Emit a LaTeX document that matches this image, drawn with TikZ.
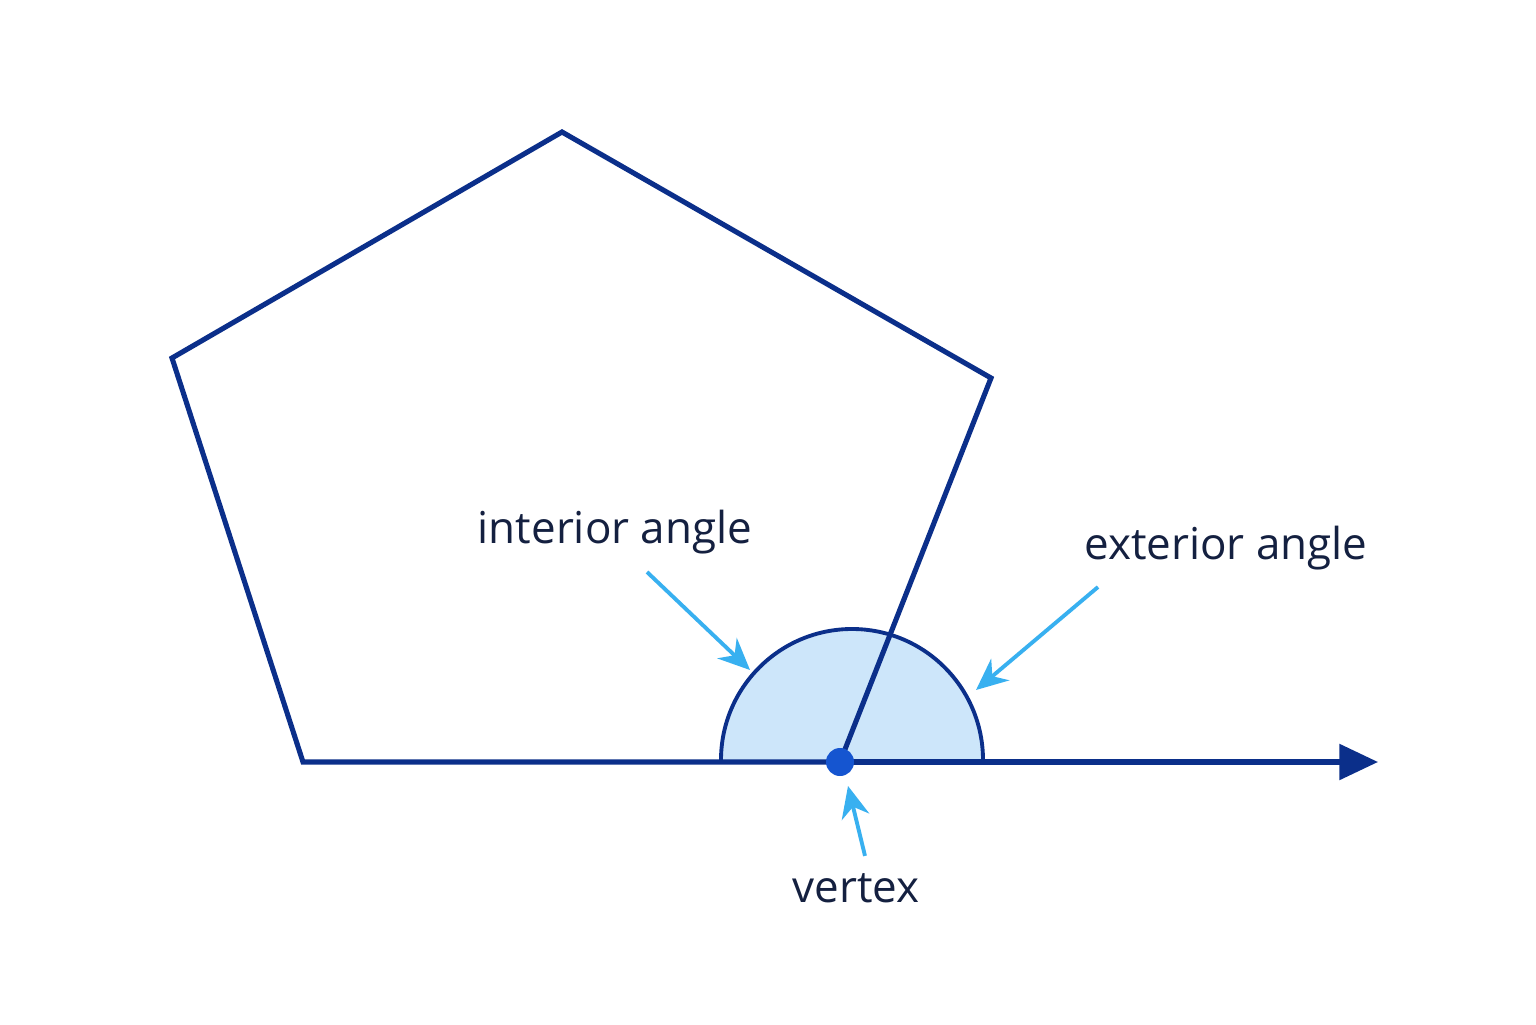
\documentclass[tikz,border=0pt]{standalone}
\usepackage{fontspec}
\setmainfont{Open Sans}
\usetikzlibrary{arrows.meta}
\definecolor{edge}{HTML}{0B2F8A}
\definecolor{pointer}{HTML}{38B0F0}
\definecolor{wedge}{HTML}{CDE6FA}
\definecolor{dot}{HTML}{1555D0}
\definecolor{ink}{HTML}{142040}
\tikzset{
  side/.style={draw=edge, line width=1.45pt, line join=miter},
  pointy/.style={draw=pointer, line width=1.1pt, -{Stealth[length=9pt,width=8pt]}},
  label/.style={text=ink, font=\fontsize{12.5}{15}\selectfont}
}
\begin{document}
\begin{tikzpicture}
\useasboundingbox[fill=white] (0,0) rectangle (15.36,10.24);
\coordinate (top) at (5.62,8.92);
\coordinate (ul) at (1.72,6.66);
\coordinate (ll) at (3.03,2.62);
\coordinate (v) at (8.40,2.62);
\coordinate (ur) at (9.91,6.46);
\coordinate (tip) at (13.78,2.62);
% angle marks
\fill[wedge] (7.21,2.62) arc (180:0:1.31) -- cycle;
\draw[edge, line width=1.1pt] (7.21,2.64) arc (180:0:1.31);
% polygon and extended side
\draw[side] (v) -- (ur) -- (top) -- (ul) -- (ll) -- (v);
\draw[side, -{Triangle[length=11pt,width=10pt]}] (v) -- (tip);
\fill[dot] (v) circle (0.14);
% labels
\node[label] (inner) at (6.15,4.92) {interior angle};
\node[label] (outer) at (12.26,4.76) {exterior angle};
\node[label] (vert) at (8.56,1.36) {vertex};
\coordinate (innerend) at (7.50,3.54);
\coordinate (outerend) at (9.76,3.34);
\coordinate (vertend) at (8.48,2.38);
\draw[pointy] (6.47,4.52) -- (innerend);
\draw[pointy] (10.98,4.37) -- (outerend);
\draw[pointy] (vert.north) ++(0.09,0.05) -- (vertend);
\end{tikzpicture}
\end{document}
